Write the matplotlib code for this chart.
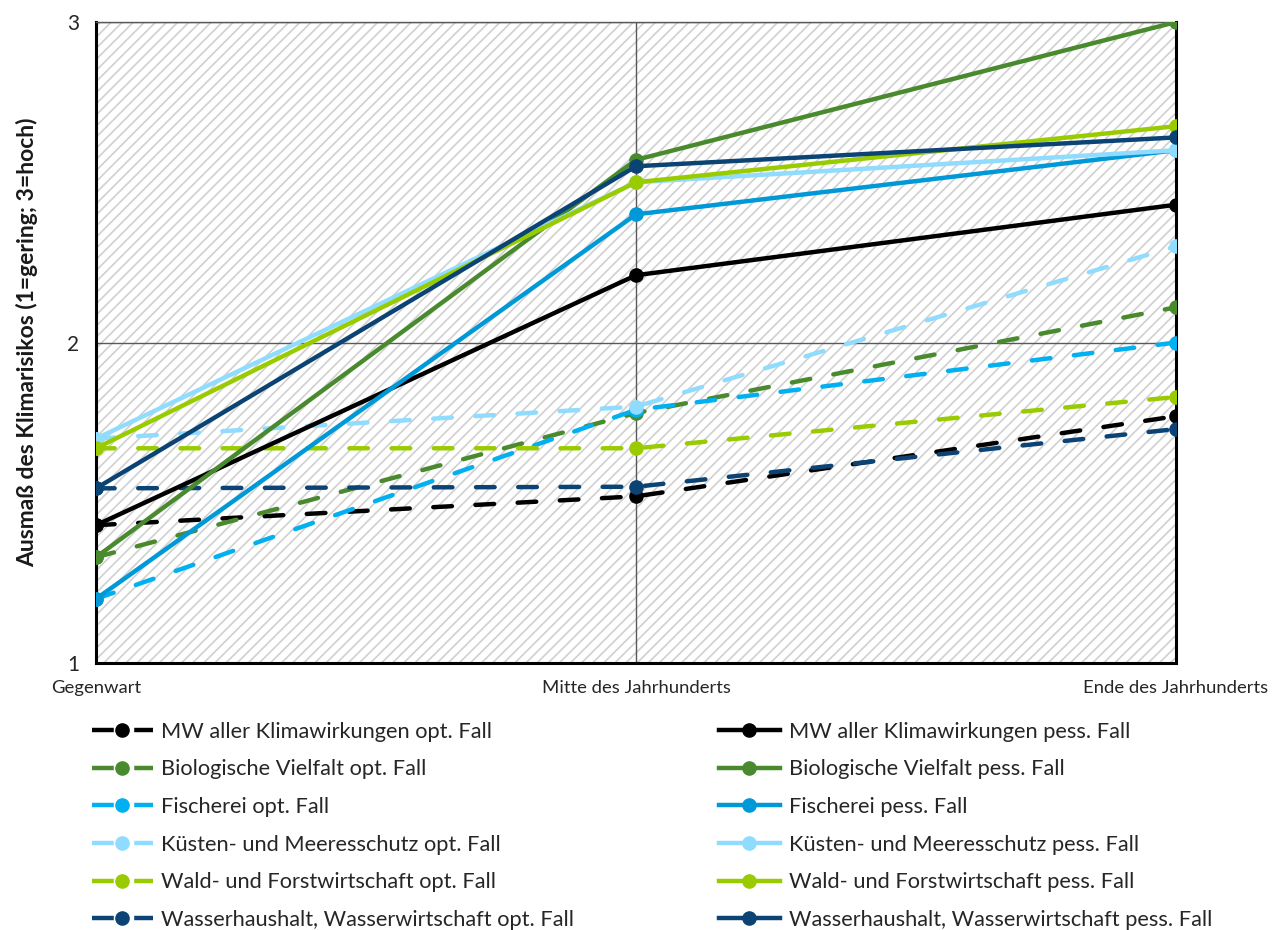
import matplotlib
matplotlib.use("Agg")
import matplotlib.pyplot as plt

plt.rcParams['font.family'] = ['Lato', 'DejaVu Sans']
plt.rcParams['hatch.linewidth'] = 1.2
plt.rcParams['hatch.color'] = '#d0d0d0'

periods = ["Gegenwart", "Mitte des Jahrhunderts", "Ende des Jahrhunderts"]

names = [
    "MW aller Klimawirkungen",
    "Biologische Vielfalt",
    "Fischerei",
    "Küsten- und Meeresschutz",
    "Wald- und Forstwirtschaft",
    "Wasserhaushalt, Wasserwirtschaft",
]

opt_values = [
    [1.43, 1.52, 1.77],
    [1.33, 1.78, 2.11],
    [1.20, 1.79, 2.00],
    [1.70, 1.80, 2.30],
    [1.67, 1.67, 1.83],
    [1.545, 1.55, 1.73],
]

pess_values = [
    [1.43, 2.21, 2.43],
    [1.33, 2.57, 3.00],
    [1.20, 2.40, 2.60],
    [1.70, 2.50, 2.60],
    [1.67, 2.50, 2.675],
    [1.545, 2.55, 2.64],
]

opt_colors = ["#000000", "#4a8a2e", "#00b0f0", "#8fdcff", "#99cc00", "#0b4474"]
pess_colors = ["#000000", "#4a8a2e", "#0099d8", "#8fdcff", "#99cc00", "#0b4474"]

fig = plt.figure(figsize=(12.85, 9.3), dpi=100)
ax = fig.add_axes([0.0747, 0.2871, 0.8405, 0.6892])

ax.patch.set_facecolor('white')
ax.patch.set_hatch('///')
ax.patch.set_edgecolor('#d0d0d0')
ax.patch.set_linewidth(0)

LW = 3.2
x = list(range(len(periods)))
opt_handles, pess_handles = [], []
for i, name in enumerate(names):
    h_opt, = ax.plot(x, opt_values[i], color=opt_colors[i], lw=LW,
                     dashes=(4.2, 5.3), dash_capstyle='round',
                     marker='o', ms=9.5, zorder=3,
                     label=f"{name} opt. Fall")
    h_pess, = ax.plot(x, pess_values[i], color=pess_colors[i], lw=LW,
                      marker='o', ms=9.5, zorder=4,
                      label=f"{name} pess. Fall")
    opt_handles.append(h_opt)
    pess_handles.append(h_pess)

ax.set_xlim(0, 2)
ax.set_ylim(1, 3)
ax.set_yticks([1, 2, 3])
ax.set_xticks(x)
ax.set_xticklabels(periods, fontsize=13.3, color='#262626')
ax.tick_params(axis='y', labelsize=15, length=0, pad=12, labelcolor='#262626')
ax.tick_params(axis='x', length=0, pad=12)

ax.grid(True, color='#595959', lw=1.0, zorder=1)
ax.set_axisbelow(True)

for side in ['left', 'bottom', 'right']:
    ax.spines[side].set_color('black')
    ax.spines[side].set_linewidth(2.2)
ax.spines['top'].set_color('#595959')
ax.spines['top'].set_linewidth(1.0)

ax.set_ylabel("Ausmaß des Klimarisikos (1=gering; 3=hoch)", fontsize=16.5,
              fontweight='bold', labelpad=21, color='#1a1a1a')

handles = opt_handles + pess_handles
leg = fig.legend(handles, [h.get_label() for h in handles],
                 ncol=2, loc='upper left', bbox_to_anchor=(0.056, 0.245),
                 frameon=False, fontsize=15.7, handlelength=2.8,
                 labelspacing=0.81, columnspacing=6.63, handletextpad=0.4)
for txt in leg.get_texts():
    txt.set_color('#262626')
# "—●—" legend keys: short dash on each side of the marker
for line in leg.get_lines()[:len(opt_handles)]:
    line.set_dashes((4.9, 4.6))
    line.set_dash_capstyle('butt')

fig.savefig("out.png", dpi=100)
